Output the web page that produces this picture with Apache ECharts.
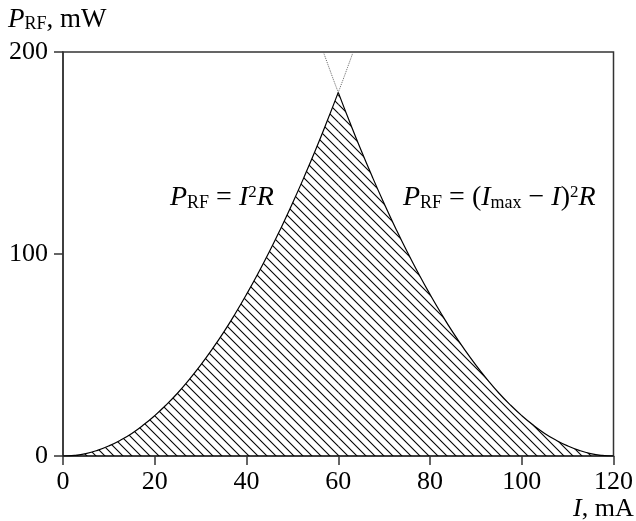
<!DOCTYPE html>
<html><head><meta charset="utf-8">
<script src="https://cdn.jsdelivr.net/npm/echarts@6/dist/echarts.min.js"></script>
<style>html,body{margin:0;padding:0;background:#fff}#c{width:636px;height:521px}</style>
</head><body><div id="c"></div>
<script>
// Values (I in mA, P_RF in mW)
const leftI  = [0, 2.5, 5, 7.5, 10, 12.5, 15, 17.5, 20, 22.5, 25, 27.5, 30, 32.5, 35, 37.5, 40, 42.5, 45, 47.5, 50, 52.5, 55, 57.5, 60];
const leftP  = [0, 0.3, 1.2, 2.8, 5, 7.8, 11.2, 15.3, 20, 25.3, 31.2, 37.8, 45, 52.8, 61.2, 70.3, 80, 90.3, 101.2, 112.8, 125, 137.8, 151.2, 165.3, 180];
const rightI = [60, 62.5, 65, 67.5, 70, 72.5, 75, 77.5, 80, 82.5, 85, 87.5, 90, 92.5, 95, 97.5, 100, 102.5, 105, 107.5, 110, 112.5, 115, 117.5, 120];
const rightP = [180, 165.3, 151.2, 137.8, 125, 112.8, 101.2, 90.3, 80, 70.3, 61.2, 52.8, 45, 37.8, 31.2, 25.3, 20, 15.3, 11.2, 7.8, 5, 2.8, 1.2, 0.3, 0];
const leftDotI  = [60, 61, 62, 63.2];
const leftDotP  = [180, 186, 192.2, 199.7];
const rightDotI = [56.8, 58, 59, 60];
const rightDotP = [199.7, 192.2, 186, 180];
const xTicks = [0, 20, 40, 60, 80, 100, 120];
const yTicks = [0, 100, 200];

const pairs = (xs, ys) => xs.map((x, i) => [x, ys[i]]);

// hatch pattern
const tw = 9, th = 9;
const pc = document.createElement('canvas');
pc.width = tw; pc.height = th;
const g = pc.getContext('2d');
g.strokeStyle = '#000'; g.lineWidth = 1.1;
for (let k = -1; k <= 1; k++) {
  g.beginPath();
  g.moveTo(k * tw - tw, -th);
  g.lineTo(k * tw + 2 * tw, 2 * th);
  g.stroke();
}
const hatch = { image: pc, repeat: 'repeat' };

const SERIF = '"Liberation Serif", "Times New Roman", serif';
function mkRich(F, S, U, L) {
  return {
    p: { fontFamily: SERIF, fontSize: F, fontStyle: 'italic', color: '#000', lineHeight: L, verticalAlign: 'middle' },
    i: { fontFamily: SERIF, fontSize: F, fontStyle: 'italic', color: '#000', lineHeight: L, verticalAlign: 'middle' },
    n: { fontFamily: SERIF, fontSize: F, color: '#000', lineHeight: L, verticalAlign: 'middle' },
    s: { fontFamily: SERIF, fontSize: S, color: '#000', lineHeight: L, verticalAlign: 'bottom' },
    sup: { fontFamily: SERIF, fontSize: U, color: '#000', lineHeight: L, verticalAlign: 'top' }
  };
}
const richBig = mkRich(28, 18, 17, 28);
const richAx = mkRich(26, 18, 16, 26);

function label(text, x, y, rich) {
  return { type: 'text', x: x, y: y, silent: true,
    style: { text: text, rich: rich, textAlign: 'left', textVerticalAlign: 'middle', verticalAlign: 'middle' } };
}

const AX = '#333';
const chart = echarts.init(document.getElementById('c'), null, { renderer: 'canvas' });
chart.setOption({
  animation: false,
  backgroundColor: '#fff',
  grid: { left: 63, right: 22, top: 52, bottom: 65, show: true, borderColor: AX, borderWidth: 1.5, backgroundColor: 'transparent' },
  xAxis: {
    type: 'value', min: xTicks[0], max: xTicks[xTicks.length - 1], interval: 20,
    axisLine: { onZero: false, lineStyle: { color: AX, width: 1.5 } },
    axisTick: { show: true, length: 9, inside: false, lineStyle: { color: AX, width: 1.5 } },
    splitLine: { show: false },
    axisLabel: { margin: 13, fontFamily: SERIF, fontSize: 26, color: '#000' }
  },
  yAxis: {
    type: 'value', min: yTicks[0], max: yTicks[yTicks.length - 1], interval: 100,
    axisLine: { show: true, onZero: false, lineStyle: { color: AX, width: 1.5 } },
    axisTick: { show: true, length: 9, inside: false, lineStyle: { color: AX, width: 1.5 } },
    splitLine: { show: false },
    axisLabel: { margin: 15, fontFamily: SERIF, fontSize: 26, color: '#000' }
  },
  series: [
    { type: 'line', data: pairs(leftI, leftP), smooth: true, symbol: 'none', silent: true,
      lineStyle: { color: '#000', width: 1.2 }, areaStyle: { color: hatch, opacity: 1 } },
    { type: 'line', data: pairs(rightI, rightP), smooth: true, symbol: 'none', silent: true,
      lineStyle: { color: '#000', width: 1.2 }, areaStyle: { color: hatch, opacity: 1 } },
    { type: 'line', data: pairs(leftDotI, leftDotP), smooth: true, symbol: 'none', silent: true,
      lineStyle: { color: '#666', width: 1, type: 'dotted' } },
    { type: 'line', data: pairs(rightDotI, rightDotP), smooth: true, symbol: 'none', silent: true,
      lineStyle: { color: '#666', width: 1, type: 'dotted' } }
  ],
  graphic: [
    label('{p|P}{s|RF}{n|, mW}', 8, 20, mkRich(27, 18, 16, 27)),
    label('{i|I}{n|, mA}', 573, 509, richAx),
    label('{p|P}{s|RF}{n| = }{i|I}{sup|2}{i|R}', 170, 198, richBig),
    label('{p|P}{s|RF}{n| = (}{i|I}{s|max}{n| − }{i|I}{n|)}{sup|2}{i|R}', 403, 198, richBig)
  ]
});
</script></body></html>
